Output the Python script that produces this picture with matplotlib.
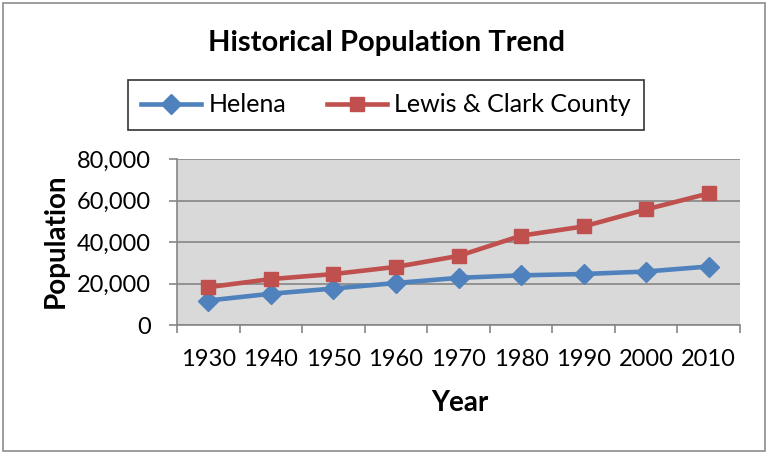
import matplotlib
matplotlib.use("Agg")
import matplotlib.pyplot as plt
from matplotlib.patches import Rectangle
from matplotlib.ticker import FuncFormatter, FixedLocator, NullFormatter

years = ["1930", "1940", "1950", "1960", "1970", "1980", "1990", "2000", "2010"]
helena = [11803, 15056, 17581, 20227, 22730, 23938, 24569, 25780, 28190]
county = [18224, 22131, 24540, 28006, 33281, 43039, 47495, 55716, 63395]
y_ticks = [0, 20000, 40000, 60000, 80000]

plt.rcParams["font.family"] = ["Lato", "DejaVu Sans"]

BLUE = "#4F81BD"
RED = "#C0504D"
GRID = "#868686"

W, H = 768, 453
fig = plt.figure(figsize=(W / 100, H / 100), dpi=100)

# outer chart border
fig.patches.append(Rectangle((3 / W, 2 / H), (W - 6) / W, (H - 5) / H,
                             transform=fig.transFigure, fill=False,
                             edgecolor="#8c8c8c", linewidth=1.2))

left, right, top, bottom = 177, 740, 159, 325
ax = fig.add_axes([left / W, 1 - bottom / H, (right - left) / W, (bottom - top) / H])
ax.set_facecolor("#d9d9d9")

x = list(range(len(years)))
ax.plot(x, helena, color=BLUE, lw=3.3, marker="D", ms=10.5, label="Helena",
        solid_joinstyle="round", zorder=3)
ax.plot(x, county, color=RED, lw=3.3, marker="s", ms=10, label="Lewis & Clark County",
        solid_joinstyle="round", zorder=3)

ax.set_xlim(-0.5, len(years) - 0.5)
ax.set_ylim(0, 80000)
ax.set_yticks(y_ticks)
ax.yaxis.set_major_formatter(FuncFormatter(lambda v, p: f"{int(v):,}"))
ax.yaxis.grid(True, color=GRID, lw=1.2)
ax.set_axisbelow(True)

# category boundaries carry the tick marks, centres carry the labels
ax.xaxis.set_major_locator(FixedLocator([i - 0.5 for i in range(len(years) + 1)]))
ax.xaxis.set_major_formatter(NullFormatter())
ax.xaxis.set_minor_locator(FixedLocator(x))
ax.set_xticklabels(years, minor=True)
ax.tick_params(axis="x", which="major", length=6, width=1.2, color=GRID)
ax.tick_params(axis="x", which="minor", length=0, pad=17, labelsize=17)
ax.tick_params(axis="y", length=6, width=1.2, color=GRID, pad=13, labelsize=17)

for side in ["top", "right"]:
    ax.spines[side].set_visible(False)
for side in ["left", "bottom"]:
    ax.spines[side].set_color(GRID)
    ax.spines[side].set_linewidth(1.2)

fig.text(56 / W, 1 - 241 / H, "Population", rotation=90, ha="center", va="center",
         fontsize=20, fontweight="bold")
fig.text(460 / W, 1 - 403 / H, "Year", ha="center", va="center",
         fontsize=20, fontweight="bold")
fig.text(386 / W, 1 - 43 / H, "Historical Population Trend", ha="center", va="center",
         fontsize=21, fontweight="bold")

leg = fig.legend(loc="center", bbox_to_anchor=(386 / W, 1 - 105 / H), ncol=2,
                 fontsize=18, frameon=True, fancybox=False, edgecolor="black",
                 handlelength=2.4, columnspacing=1.6, handletextpad=0.3,
                 borderpad=0.55, borderaxespad=0)
leg.get_frame().set_linewidth(1.2)

fig.savefig("out.png", dpi=100)
